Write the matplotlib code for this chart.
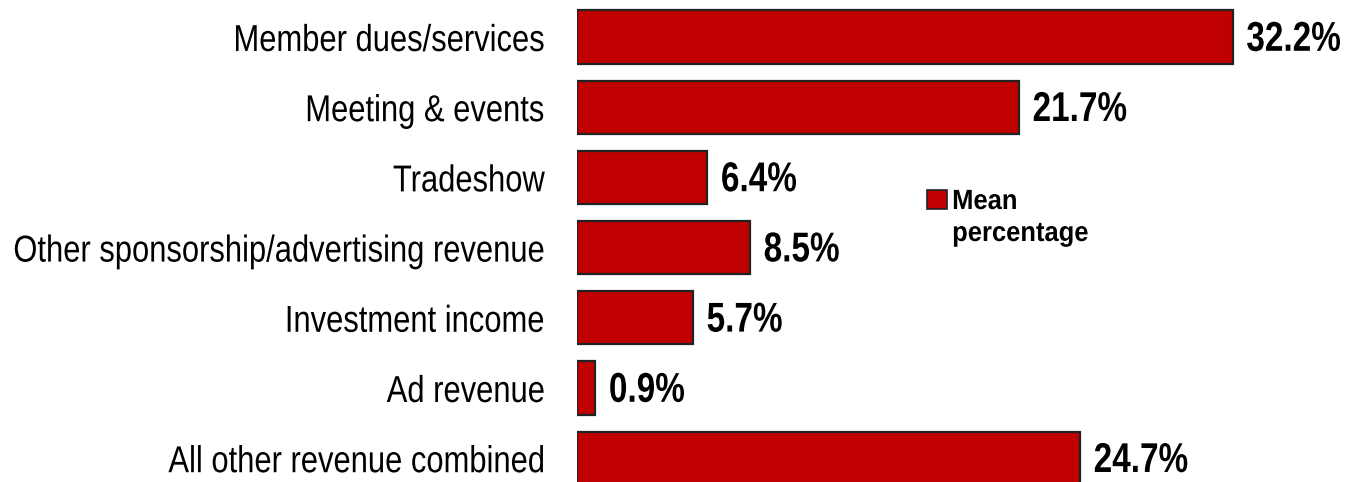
import matplotlib
matplotlib.use("Agg")
import matplotlib.pyplot as plt
from matplotlib.patches import Rectangle
from matplotlib.patheffects import AbstractPathEffect
from matplotlib.transforms import Affine2D, Bbox

# revenue sources and their mean share of total revenue (%)
categories = [
    "Member dues/services",
    "Meeting & events",
    "Tradeshow",
    "Other sponsorship/advertising revenue",
    "Investment income",
    "Ad revenue",
    "All other revenue combined",
]
mean_pct = [32.2, 21.7, 6.4, 8.5, 5.7, 0.9, 24.7]
series_name = "Mean\npercentage"

bar_color = "#C00000"
font = ["Liberation Sans", "DejaVu Sans"]


class Narrow(AbstractPathEffect):
    """Squeeze glyphs horizontally to mimic a narrow face."""

    def __init__(self, sx=0.82, anchor="left"):
        super().__init__()
        self.sx = sx
        self.anchor = anchor

    def draw_path(self, renderer, gc, tpath, affine, rgbFace=None):
        ext = tpath.get_extents(affine)
        x0 = ext.x0 if self.anchor == "left" else ext.x1
        squeeze = Affine2D().translate(-x0, 0).scale(self.sx, 1).translate(x0, 0)
        renderer.draw_path(gc, tpath, affine + squeeze, rgbFace)


def narrow(t, sx, anchor):
    # squeeze the drawn glyphs and report the squeezed box as the extent
    t.set_path_effects([Narrow(sx, anchor)])
    full_extent = t.get_window_extent

    def extent(renderer=None, dpi=None):
        bb = full_extent(renderer, dpi)
        x0 = bb.x0 if anchor == "left" else bb.x1
        return Bbox.from_extents(x0 + (bb.x0 - x0) * sx, bb.y0,
                                 x0 + (bb.x1 - x0) * sx, bb.y1)

    t.get_window_extent = extent
    return t


W, H = 1356, 482
fig = plt.figure(figsize=(W / 100, H / 100), dpi=100)
ax = fig.add_axes([577 / W, 0, 1 - 577 / W, 1])

ypos = list(range(len(categories)))
bars = ax.barh(ypos, mean_pct, height=0.76, color=bar_color,
               edgecolor="#222222", linewidth=1.6)

# one x unit ~ 20.4 px, one row ~ 70.2 px
ax.set_xlim(0, (W - 577) / 20.37)
ax.set_ylim((H - 37) / 70.2, -37 / 70.2)

for b, v in zip(bars, mean_pct):
    t = ax.text(b.get_width() + 0.65, b.get_y() + b.get_height() / 2 + 0.04,
                f"{v:.1f}%", ha="left", va="center", fontsize=30,
                fontweight="bold", family=font)
    narrow(t, 0.8, "left")

ax.set_yticks(ypos)
ax.set_yticklabels(categories, fontsize=27, family=font)
for t in ax.get_yticklabels():
    narrow(t, 0.825, "right")
ax.tick_params(axis="y", length=0, pad=23)
ax.set_xticks([])
for s in ax.spines.values():
    s.set_visible(False)

# legend: red square next to the first line of the series name
fig.add_artist(Rectangle((927 / W, 1 - 209 / H), 20 / W, 19 / H,
                         transform=fig.transFigure, facecolor=bar_color,
                         edgecolor="#222222", linewidth=1.2))
leg_text = fig.text(952 / W, 1 - 241 / H, series_name, ha="left",
                    va="baseline", fontsize=20, fontweight="bold",
                    family=font, linespacing=1.3)
narrow(leg_text, 0.92, "left")

fig.savefig("out.png", dpi=100)
